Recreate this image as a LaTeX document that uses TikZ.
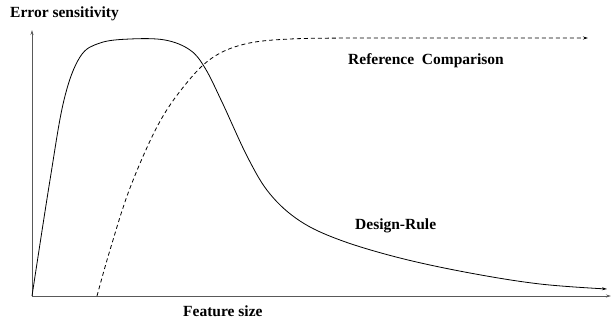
\documentclass[tikz,border=0pt]{standalone}
\usepackage{fontspec}
\setmainfont{Liberation Serif}
\usetikzlibrary{arrows.meta}
\tikzset{
  axis/.style={draw=black!65, line width=1pt, -{Stealth[length=5pt,width=3pt]}},
  curve/.style={draw=black, line width=0.8pt, -{Stealth[length=5pt,width=3pt]}},
  dcurve/.style={curve, dash pattern=on 4pt off 3pt},
  lbl/.style={font=\bfseries\fontsize{15.5}{17}\selectfont, inner sep=0pt}
}
\begin{document}
\begin{tikzpicture}[x=1pt,y=-1pt]
\useasboundingbox (0,0) rectangle (613,322);
\coordinate (o) at (32,296);
\coordinate (ytop) at (32,30);
\coordinate (xend) at (611,296);
\draw[axis] (o) -- (ytop);
\draw[axis] (o) -- (xend);
% solid Design-Rule curve
\draw[curve] plot[smooth, tension=0.6] coordinates {(32,296) (50,180) (64,100) (80,57) (100,43) (130,39) (165,40) (190,50) (205,68) (222,102) (248,158) (270,194) (300,221) (340,240) (400,258) (470,273) (540,284) (607,289)};
% dashed Reference Comparison curve
\draw[dcurve] plot[smooth, tension=0.6] coordinates {(97,296) (110,250) (130,188) (158,125) (185,85) (212,58) (245,44) (290,39) (360,38) (450,38) (588,38)};
\node[lbl, anchor=west] (ylab) at (10,14) {Error sensitivity};
\node[lbl, anchor=west] (ref) at (348,61) {Reference\ \ Comparison};
\node[lbl, anchor=west] (dr) at (355,226) {Design-Rule};
\node[lbl, anchor=west] (xlab) at (183,311) {Feature size};
\end{tikzpicture}
\end{document}
